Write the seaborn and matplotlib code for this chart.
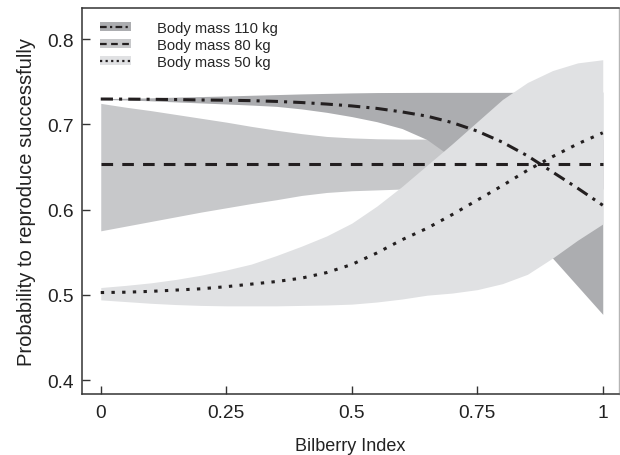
import matplotlib
matplotlib.use("Agg")
import matplotlib.pyplot as plt
from matplotlib.patches import Patch
from matplotlib.lines import Line2D
import seaborn as sns

# Bilberry index grid
bilberry = [0.0, 0.05, 0.1, 0.15, 0.2, 0.25, 0.3, 0.35, 0.4, 0.45, 0.5,
            0.55, 0.6, 0.65, 0.7, 0.75, 0.8, 0.85, 0.9, 0.95, 1.0]

# body mass 110 kg
mean_110 = [0.7296, 0.7295, 0.7293, 0.729, 0.7285, 0.7282, 0.7277, 0.7268, 0.7255, 0.7237, 0.7215,
            0.7186, 0.7145, 0.7095, 0.702, 0.692, 0.679, 0.663, 0.644, 0.625, 0.605]
upper_110 = [0.7300, 0.7305, 0.731, 0.7318, 0.7325, 0.7332, 0.734, 0.7348, 0.7356, 0.7362, 0.7368,
             0.7372, 0.7373, 0.7374, 0.7374, 0.7374, 0.7374, 0.7375, 0.7376, 0.7377, 0.7378]
lower_110 = [0.7292, 0.7285, 0.7275, 0.7262, 0.725, 0.7238, 0.7225, 0.721, 0.718, 0.714, 0.709,
             0.703, 0.695, 0.682, 0.661, 0.637, 0.610, 0.578, 0.543, 0.510, 0.477]

# body mass 80 kg
mean_80 = [0.6535] * 21
upper_80 = [0.7245, 0.720, 0.716, 0.7115, 0.707, 0.7025, 0.6975, 0.693, 0.689, 0.6857, 0.684,
            0.683, 0.6826, 0.6826, 0.6826, 0.6826, 0.6826, 0.6826, 0.6826, 0.6826, 0.6826]
lower_80 = [0.575, 0.5805, 0.586, 0.5915, 0.597, 0.602, 0.607, 0.6115, 0.6165, 0.620, 0.622,
            0.623, 0.624, 0.624, 0.624, 0.624, 0.624, 0.624, 0.624, 0.624, 0.624]

# body mass 50 kg
mean_50 = [0.5026, 0.503, 0.504, 0.5055, 0.507, 0.5095, 0.5125, 0.5155, 0.5195, 0.526, 0.5355,
           0.549, 0.5645, 0.578, 0.594, 0.611, 0.628, 0.646, 0.662, 0.677, 0.690]
upper_50 = [0.5085, 0.511, 0.514, 0.518, 0.523, 0.529, 0.536, 0.546, 0.557, 0.569, 0.584,
            0.604, 0.627, 0.652, 0.677, 0.703, 0.729, 0.749, 0.763, 0.772, 0.7757]
lower_50 = [0.494, 0.492, 0.490, 0.4885, 0.4875, 0.487, 0.487, 0.487, 0.4875, 0.488, 0.489,
            0.4915, 0.495, 0.4995, 0.502, 0.506, 0.513, 0.524, 0.543, 0.564, 0.583]

labels = ["Body mass 110 kg", "Body mass 80 kg", "Body mass 50 kg"]
x_ticks = [0, 0.25, 0.5, 0.75, 1]
x_ticklabels = ["0", "0.25", "0.5", "0.75", "1"]
y_ticks = [0.4, 0.5, 0.6, 0.7, 0.8]

sns.set_style("ticks")
plt.rcParams["font.family"] = ["Liberation Sans", "DejaVu Sans"]

ink = "#231f20"
c110, c80, c50 = "#acadb0", "#c7c8ca", "#e0e1e3"
lw = 2.2
ls110 = (0, (4.0, 2.0, 1.0, 2.0))
ls80 = (0, (3.8, 3.0))
ls50 = (0, (1.1, 2.4))

fig = plt.figure(figsize=(6.2, 4.56), dpi=100)
ax = fig.add_axes([0.1323, 0.1338, 0.8666, 0.8465])

ax.fill_between(bilberry, lower_80, upper_80, color=c80, lw=0, zorder=1)
ax.fill_between(bilberry, lower_110, upper_110, color=c110, lw=0, zorder=2)
ax.fill_between(bilberry, lower_50, upper_50, color=c50, lw=0, zorder=3)

sns.lineplot(x=bilberry, y=mean_110, ax=ax, color=ink, lw=lw, linestyle=ls110, zorder=5)
sns.lineplot(x=bilberry, y=mean_80, ax=ax, color=ink, lw=lw, linestyle=ls80, zorder=5)
sns.lineplot(x=bilberry, y=mean_50, ax=ax, color=ink, lw=lw, linestyle=ls50, zorder=5)

ax.set_xlim(-0.0373, 1.033)
ax.set_ylim(0.3836, 0.8364)
ax.set_xticks(x_ticks)
ax.set_xticklabels(x_ticklabels)
ax.set_yticks(y_ticks)
ax.set_yticklabels([f"{v:.1f}" for v in y_ticks])
ax.tick_params(direction="in", length=5.5, width=1, color="#333333",
               labelsize=13.8, labelcolor="#222222")
ax.tick_params(axis="x", pad=7.5)
ax.tick_params(axis="y", pad=6)

for side in ["left", "bottom", "top"]:
    ax.spines[side].set_color("#333333")
    ax.spines[side].set_linewidth(1.1)
ax.spines["right"].set_color("#b5b5b5")
ax.spines["right"].set_linewidth(1.0)

ax.set_xlabel("Bilberry Index", fontsize=13, color="#222222", labelpad=11)
ax.set_ylabel("Probability to reproduce successfully", fontsize=14.5,
              color="#222222", labelpad=8)

handles = [
    (Patch(facecolor=c110, lw=0), Line2D([], [], color=ink, lw=1.6, linestyle=(0, (3, 1.5, 1, 1.5)))),
    (Patch(facecolor=c80, lw=0), Line2D([], [], color=ink, lw=1.6, linestyle=(0, (3, 2)))),
    (Patch(facecolor=c50, lw=0), Line2D([], [], color=ink, lw=1.6, linestyle=(0, (1, 1.5)))),
]
ax.legend(handles, labels, loc="upper left", bbox_to_anchor=(0.0335, 0.967),
          frameon=False, fontsize=10.6, handlelength=2.1, handleheight=0.5,
          handletextpad=1.75, labelspacing=0.2, borderpad=0, borderaxespad=0)

fig.savefig("out.png", dpi=100)
